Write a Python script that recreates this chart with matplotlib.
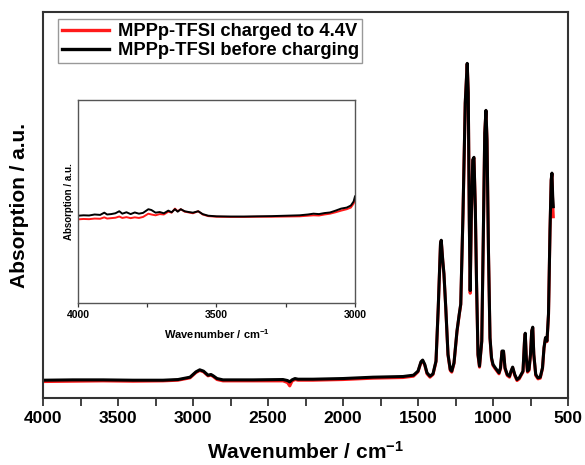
import numpy as np
import matplotlib
matplotlib.use('Agg')
import matplotlib.pyplot as plt
from matplotlib.ticker import MultipleLocator

plt.rcParams['font.family'] = ['Liberation Sans', 'DejaVu Sans']
plt.rcParams['font.weight'] = 'bold'
plt.rcParams['mathtext.fontset'] = 'custom'
plt.rcParams['mathtext.rm'] = 'Liberation Sans:bold'
plt.rcParams['mathtext.bf'] = 'Liberation Sans:bold'
plt.rcParams['mathtext.default'] = 'bf'

# full spectrum (wavenumber / cm-1, absorption a.u.)
wn = [4000, 3800, 3600, 3400, 3200, 3100, 3020, 2980, 2955, 2930, 2900, 2880,
      2865, 2840, 2800, 2600, 2400, 2370, 2355, 2340, 2320, 2300, 2200, 2000,
      1800, 1600, 1530, 1500, 1480, 1469, 1455, 1440, 1420, 1400, 1380, 1365,
      1350, 1345, 1335, 1327, 1315, 1300, 1285, 1275, 1260, 1240, 1225, 1215,
      1200, 1185, 1172, 1165, 1158, 1152, 1145, 1135, 1127, 1118, 1110, 1100,
      1090, 1075, 1065, 1055, 1047, 1040, 1030, 1020, 1010, 1000, 985, 960,
      950, 940, 930, 920, 905, 890, 880, 869, 855, 840, 825, 800, 790, 785,
      778, 770, 760, 750, 742, 735, 728, 715, 700, 685, 670, 660, 650, 640,
      630, 620, 612, 607, 602, 598]
before = [0.003, 0.004, 0.004, 0.003, 0.003, 0.005, 0.012, 0.028, 0.034, 0.030,
          0.018, 0.020, 0.016, 0.008, 0.004, 0.004, 0.005, 0.002, -0.002, 0.004,
          0.008, 0.006, 0.006, 0.008, 0.012, 0.014, 0.018, 0.030, 0.058, 0.063,
          0.050, 0.025, 0.015, 0.022, 0.060, 0.220, 0.410, 0.420, 0.360, 0.320,
          0.220, 0.080, 0.035, 0.030, 0.055, 0.150, 0.200, 0.230, 0.500, 0.830,
          0.947, 0.860, 0.480, 0.270, 0.480, 0.660, 0.667, 0.520, 0.300, 0.080,
          0.045, 0.120, 0.420, 0.740, 0.807, 0.720, 0.380, 0.130, 0.070, 0.050,
          0.040, 0.025, 0.040, 0.090, 0.090, 0.040, 0.020, 0.015, 0.030, 0.042,
          0.020, 0.005, 0.010, 0.030, 0.120, 0.143, 0.070, 0.030, 0.035, 0.080,
          0.150, 0.161, 0.080, 0.020, 0.010, 0.012, 0.040, 0.100, 0.130, 0.120,
          0.200, 0.450, 0.600, 0.620, 0.550, 0.520]
charged = [-0.001, 0.000, 0.001, 0.000, 0.001, 0.003, 0.010, 0.026, 0.032, 0.028,
           0.016, 0.018, 0.014, 0.005, 0.001, 0.001, 0.001, -0.004, -0.014, 0.000,
           0.005, 0.003, 0.003, 0.005, 0.009, 0.011, 0.015, 0.028, 0.056, 0.061,
           0.048, 0.022, 0.012, 0.020, 0.058, 0.218, 0.408, 0.418, 0.358, 0.318,
           0.218, 0.078, 0.032, 0.027, 0.053, 0.148, 0.198, 0.228, 0.498, 0.828,
           0.945, 0.858, 0.478, 0.262, 0.478, 0.658, 0.665, 0.518, 0.298, 0.077,
           0.042, 0.118, 0.418, 0.738, 0.805, 0.718, 0.378, 0.127, 0.067, 0.047,
           0.037, 0.022, 0.037, 0.088, 0.088, 0.037, 0.017, 0.012, 0.028, 0.040,
           0.017, 0.002, 0.007, 0.028, 0.118, 0.141, 0.068, 0.027, 0.032, 0.078,
           0.148, 0.159, 0.078, 0.017, 0.007, 0.009, 0.038, 0.098, 0.128, 0.118,
           0.198, 0.448, 0.598, 0.618, 0.530, 0.490]

# inset, 4000-3000 cm-1 magnified
wn_in = [4000, 3980, 3960, 3940, 3920, 3905, 3895, 3880, 3865, 3851, 3840, 3825,
         3810, 3795, 3780, 3765, 3746, 3735, 3720, 3705, 3690, 3674, 3662, 3650,
         3640, 3629, 3615, 3600, 3585, 3566, 3550, 3530, 3500, 3450, 3400, 3350,
         3300, 3250, 3200, 3170, 3150, 3130, 3110, 3090, 3070, 3050, 3030, 3015,
         3005, 3000]
before_in = [0.430, 0.432, 0.431, 0.436, 0.434, 0.445, 0.436, 0.438, 0.442, 0.452,
             0.440, 0.447, 0.438, 0.446, 0.440, 0.444, 0.462, 0.458, 0.445, 0.448,
             0.442, 0.455, 0.447, 0.462, 0.450, 0.462, 0.452, 0.448, 0.445, 0.452,
             0.438, 0.430, 0.427, 0.426, 0.426, 0.427, 0.428, 0.430, 0.432, 0.436,
             0.440, 0.438, 0.443, 0.446, 0.455, 0.465, 0.470, 0.480, 0.500, 0.525]
charged_in = [0.412, 0.414, 0.413, 0.416, 0.415, 0.422, 0.416, 0.418, 0.420, 0.426,
              0.419, 0.423, 0.418, 0.422, 0.419, 0.424, 0.440, 0.436, 0.432, 0.438,
              0.436, 0.450, 0.445, 0.465, 0.452, 0.462, 0.450, 0.446, 0.442, 0.452,
              0.436, 0.428, 0.425, 0.424, 0.424, 0.425, 0.425, 0.426, 0.427, 0.430,
              0.432, 0.431, 0.436, 0.440, 0.447, 0.455, 0.462, 0.470, 0.490, 0.507]

labels = ['MPPp-TFSI charged to 4.4V', 'MPPp-TFSI before charging']
spine_col = '#333333'

fig = plt.figure(figsize=(5.85, 4.65), dpi=100)
ax = fig.add_axes([43/585, 1-398/465, 525/585, 386/465])

ax.plot(wn, charged, color='#ff1a1a', lw=2.2, label=labels[0])
ax.plot(wn, before, color='black', lw=2.2, label=labels[1])
ax.set_xlim(4000, 500)
ax.set_ylim(-0.05, 1.1)
ax.xaxis.set_major_locator(MultipleLocator(500))
ax.xaxis.set_minor_locator(MultipleLocator(250))
ax.tick_params(axis='x', which='both', direction='out', length=6, width=1.3,
               labelsize=12.5, colors=spine_col, labelcolor='black', pad=3)
ax.set_yticks([])
for s in ax.spines.values():
    s.set_linewidth(1.5)
    s.set_color(spine_col)
ax.set_xlabel(r'Wavenumber / cm$^{\mathregular{-1}}$', fontsize=15,
              fontweight='bold', labelpad=11)
ax.set_ylabel('Absorption / a.u.', fontsize=15, fontweight='bold', labelpad=10)

leg = ax.legend(loc='upper left', bbox_to_anchor=(58/585, 1-19.5/465),
                bbox_transform=fig.transFigure, borderaxespad=0, fancybox=False,
                edgecolor='#999999', framealpha=1, handlelength=2.6,
                prop={'weight': 'bold', 'size': 13.2}, borderpad=0.2,
                labelspacing=0.1, handletextpad=0.45)
leg.get_frame().set_linewidth(1.0)
for h in leg.get_lines():
    h.set_linewidth(2.4)

ins = fig.add_axes([78/585, 1-303/465, 277/585, 203/465])
ins.plot(wn_in, charged_in, color='#ff1a1a', lw=1.4)
ins.plot(wn_in, before_in, color='black', lw=1.4)
ins.set_xlim(4000, 3000)
ins.set_ylim(0, 1)
ins.set_xticks([4000, 3500, 3000])
ins.xaxis.set_minor_locator(MultipleLocator(250))
ins.tick_params(axis='x', which='both', direction='out', length=3, width=0.9,
                labelsize=7.5, colors=spine_col, labelcolor='black', pad=2)
ins.set_yticks([])
for s in ins.spines.values():
    s.set_linewidth(1.0)
    s.set_color('#555555')
ins.set_xlabel(r'Wavenumber / cm$^{\mathregular{-1}}$', fontsize=8,
               fontweight='bold', labelpad=5)
ins.set_ylabel('Absorption / a.u.', fontsize=7, fontweight='bold', labelpad=3)

fig.savefig('out.png', dpi=100)
